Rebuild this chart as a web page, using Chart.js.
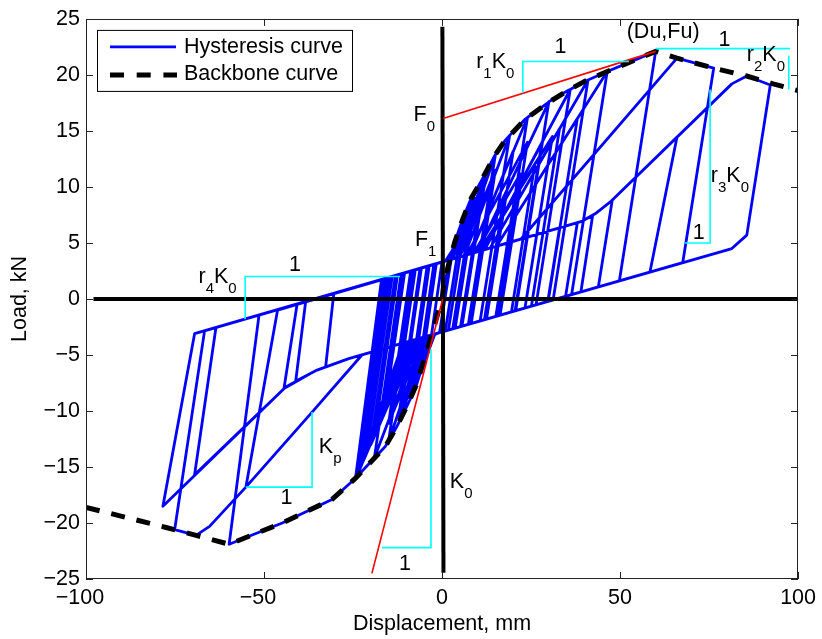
<!DOCTYPE html>
<html>
<head>
<meta charset="utf-8">
<script src="https://cdn.jsdelivr.net/npm/chart.js@4.4.1/dist/chart.umd.min.js"></script>
<style>
  html, body { margin: 0; padding: 0; background: #fff; }
</style>
</head>
<body>
<canvas id="loadChart" width="822" height="639"></canvas>
<script>
// all pairs are [displacement mm, load kN]

const xTickValues = [-100, -50, 0, 50, 100];
const yTickValues = [-25, -20, -15, -10, -5, 0, 5, 10, 15, 20, 25];

const backboneCurve = [
  [-100, -18.6], [-77.5, -20.4], [-69.1, -21.1], [-59.8, -21.9], [-55.1, -21.3],
  [-44.9, -20.0], [-30.9, -17.9], [-24.3, -16.0], [-16.0, -13.2], [-12.7, -11.4],
  [-9.9, -9.6], [-7.1, -7.6], [-3.9, -4.3], [0, 0], [0.4, 1.0], [1.7, 2.9],
  [3.6, 5.1], [5.9, 7.2], [8.2, 9.0], [10.6, 10.3], [14.8, 12.8], [17.6, 14.1],
  [23.2, 16.0], [29.7, 17.5], [35.3, 18.6], [39.9, 19.4], [46.4, 20.3],
  [53.9, 21.3], [60, 22.1], [66, 21.5], [76.3, 20.6], [85.6, 19.9], [93, 19.2],
  [100, 18.6]
];

// small cycles around the origin, each followed by a shorter repeat
const earlyCycles = [
  [0, 0], [1.7, 2.9], [3, 4.4], [-0.7, -3.0], [-3, -3.3], [0, 3.3],
  [1, 3.4], [3, 4.4], [3.6, 5.1], [6, 7.3], [0.9, -2.86], [-1, -3.03], [-3, -3.3], [-3.9, -4.3], [-6, -6.5], [-1.6, 3.15],
  [2, 3.48], [6, 7.3], [8.2, 9.0], [9, 9.4], [3.0, -2.67], [-2, -3.12], [-6, -6.5], [-7.1, -7.6], [-9, -9.0], [-3.6, 2.97],
  [2, 3.48], [7, 7.7], [1.8, -2.78], [-2, -3.12], [-7, -7.3], [-2.3, 3.09],
  [3, 3.58], [9, 9.4], [10.6, 10.3], [12, 11.1], [5.2, -2.46], [-3, -3.21], [-9, -9.0], [-9.9, -9.6], [-12, -10.95], [-5.8, 2.77],
  [3, 3.58], [9.5, 9.0], [3.7, -2.6], [-3, -3.21], [-9.5, -8.8], [-4.2, 2.91],
  [4, 3.67], [12, 11.1], [14.8, 12.8], [15, 12.9], [7.4, -2.26], [-4, -3.31], [-12, -10.95], [-12.7, -11.4], [-15, -12.7], [-8.1, 2.56],
  [4, 3.67], [12, 10.4], [5.6, -2.43], [-4, -3.31], [-12, -10.1], [-6.2, 2.73],
  [5, 3.76], [15, 12.9], [17.6, 14.1], [19, 14.6], [10.7, -1.96], [-5, -3.4], [-15, -12.7], [-16, -13.2], [-19, -14.2], [-11.5, 2.24],
  [5, 3.76], [15, 11.5], [8.2, -2.19], [-5, -3.4], [-15, -11.1], [-8.8, 2.49]
];

// medium cycles with their repeats
const midCycles = [
  [6.3, 3.88], [19, 14.6], [23.2, 16.0], [24, 16.2], [15.1, -1.56], [-6.3, -3.52], [-19, -14.2], [-24, -15.9], [-15.9, 1.83],
  [8, 4.04], [20, 13.2], [12.5, -1.8], [-7, -3.58], [-20, -13.0], [-13.1, 2.09],
  [8, 4.04], [24, 16.2], [29.7, 17.5], [30, 17.6], [20.7, -1.05], [-7.5, -3.63], [-22, -14.4], [-14.6, 1.96],
  [10, 4.22], [30, 17.6], [35.3, 18.6], [36, 18.7], [26.4, -0.53], [-8, -3.67], [-24, -15.9], [-24.3, -16.0], [-16.2, 1.81],
  [12, 4.41], [28, 13.9], [20.5, -1.07], [-8.5, -3.72], [-17, -10.3], [-11.3, 2.26],
  [12, 4.41], [36, 18.7], [39.9, 19.4], [41, 19.55], [31.2, -0.09], [-9, -3.76], [-21, -13.4], [-14.0, 2.01],
  [13.5, 4.54], [33, 15.2], [25.1, -0.65], [-9.5, -3.81], [-23, -14.9], [-15.4, 1.88],
  [13.5, 4.54], [41, 19.55], [46.4, 20.3], [36.4, 0.39], [-10, -3.85], [-18.5, -11.1], [-12.5, 2.15],
  [15.3, 4.71], [38, 16.1], [29.8, -0.22], [-10.5, -3.9], [-24.3, -16.0], [-17, 1.73],
  [9, 4.13], [22, 11.15], [15.7, -1.51], [-6, -3.49], [-14, -9.0], [-8.8, 2.49],
  [11, 4.31], [26, 11.9], [19.5, -1.16], [-7, -3.58], [-12, -7.2], [-7.5, 2.6],
  [9.5, 4.18], [17, 8.3], [11.9, -1.85], [-5.5, -3.44], [-10, -6.45], [-5.8, 2.76],
  [7, 3.95], [24, 14.0], [16.3, -1.45], [-9, -3.76], [-19.5, -12.2], [-13.0, 2.1],
  [10.5, 4.27], [31, 14.5], [23.3, -0.81], [-8, -3.67], [-16, -9.7], [-10.5, 2.33]
];

// the three largest cycles
const largeCycles = [
  [15.3, 4.71], [46.4, 20.3], [53.9, 21.3], [60, 22.1], [49.8, 1.61], [-11, -3.95], [-24.3, -16.0],
  [-30.9, -17.9], [-44.9, -20.0], [-55.1, -21.3], [-59.8, -21.9], [-51.4, -1.44],
  [22.2, 5.35], [66, 21.5], [76.3, 20.6], [67.6, 3.24], [-22.5, -5.0], [-36.5, -10.1], [-55.1, -16.8],
  [-65.3, -20.3], [-69.1, -21.1], [-75.1, -20.6], [-66.7, -2.85],
  [39, 6.9], [43, 7.6], [47.4, 8.7], [81.4, 19.2], [85.6, 19.9], [92.2, 19.1], [85.6, 5.7], [81.4, 4.5],
  [-26.2, -5.33], [-35.5, -6.4], [-43.9, -7.85], [-78.4, -18.5], [-69.5, -3.1]
];

// shorter cycles after the largest ones
const trailingCycles = [
  [39, 6.9], [43, 7.6], [47.4, 8.7], [66, 14.45], [58.4, 2.4], [-26.2, -5.33], [-35.5, -6.4], [-43.9, -7.85], [-69.5, -15.7], [-63.5, -2.55],
  [39, 6.9], [43, 7.6], [47.8, 8.8], [43.9, 1.07], [-22.5, -5.0], [-36.5, -10.1], [-55.1, -16.8], [-46.2, -1.0],
  [39, 6.9], [42.3, 7.45], [39, 0.62], [-26.2, -5.33], [-35.5, -6.4], [-44.4, -8.0], [-40.7, -0.45],
  [38, 6.8], [34.7, 0.23], [-26.2, -5.33], [-35.5, -6.4], [-41.1, -7.35], [-38.3, -0.23],
  [33, 6.34], [29.7, -0.23], [-26.2, -5.33], [-32.7, -6.08], [-30.4, 0.5], [0, 3.3]
];

const hysteresisPath = [...earlyCycles, ...midCycles, ...largeCycles, ...trailingCycles];

// zero axes drawn inside the plot
const zeroLoadLine = [[-97.9, 0], [100, 0]];
const zeroDispLine = [[0.4, -24.45], [0.1, 24.3]];

// stiffness lines
const k0Line = [[-19.7, -24.5], [0.2, 0]];
const r1k0Line = [[0.3, 16.1], [60, 22.1]];

// slope triangles
const slopeMarks = [
  [[52.5, 21.2], [22.7, 21.2], [22.7, 18.4]],
  [[60, 22.35], [97.7, 22.35]],
  [[97.4, 21.7], [97.4, 18.7]],
  [[68.2, 5.0], [75.3, 5.0], [75.3, 18.7]],
  [[-11.8, 2.0], [-55.3, 2.0], [-55.3, -1.8]],
  [[-55.1, -16.8], [-36.5, -16.8], [-36.5, -10.1]],
  [[-16.9, -22.2], [-3.1, -22.2], [-3.1, -4.5]]
];

// annotation text; odd entries are subscripts
const notes = [
  { parts: ['(Du,Fu)'], x: 62.1, y: 23.3, align: 'center' },
  { parts: ['1'], x: 33.3, y: 21.97, align: 'center' },
  { parts: ['r', '1', 'K', '0'], x: 9.6, y: 20.6 },
  { parts: ['1'], x: 79.3, y: 22.55, align: 'center' },
  { parts: ['r', '2', 'K', '0'], x: 85.6, y: 21.2 },
  { parts: ['F', '0'], x: -8.0, y: 15.9 },
  { parts: ['F', '1'], x: -7.6, y: 4.7 },
  { parts: ['r', '3', 'K', '0'], x: 75.5, y: 10.45 },
  { parts: ['1'], x: 72.1, y: 5.36, align: 'center' },
  { parts: ['r', '4', 'K', '0'], x: -68.4, y: 1.42 },
  { parts: ['1'], x: -41.3, y: 2.48, align: 'center' },
  { parts: ['K', 'p'], x: -34.6, y: -13.77 },
  { parts: ['1'], x: -43.7, y: -18.33, align: 'center' },
  { parts: ['K', '0'], x: 2.2, y: -16.87 },
  { parts: ['1'], x: -10.4, y: -24.24, align: 'center' }
];

const FONT = '"Liberation Sans", Arial, Helvetica, sans-serif';
const FONT_SIZE = 21.5;
const SUB_SIZE = 15;

const toXY = pts => pts.map(([x, y]) => ({ x, y }));
const minus = v => (v < 0 ? '\u2212' + Math.abs(v) : String(v));

function lineSet(label, pts, color, width, order, extra) {
  return Object.assign({
    label,
    data: toXY(pts),
    showLine: true,
    borderColor: color,
    backgroundColor: color,
    borderWidth: width,
    pointRadius: 0,
    pointHoverRadius: 0,
    borderJoinStyle: 'round',
    clip: 0,
    order
  }, extra || {});
}

function drawParts(ctx, parts, px, py, align) {
  const widths = parts.map((t, i) => {
    ctx.font = `${i % 2 ? SUB_SIZE : FONT_SIZE}px ${FONT}`;
    return ctx.measureText(t).width;
  });
  let x = align === 'center' ? px - widths.reduce((a, b) => a + b, 0) / 2 : px;
  ctx.textAlign = 'left';
  ctx.textBaseline = 'alphabetic';
  parts.forEach((t, i) => {
    const sub = i % 2 === 1;
    ctx.font = `${sub ? SUB_SIZE : FONT_SIZE}px ${FONT}`;
    ctx.fillText(t, x, sub ? py + 10 : py);
    x += widths[i];
  });
}

// box, inward ticks, annotations and legend
const axesDecor = {
  id: 'axesDecor',
  afterDatasetsDraw(chart) {
    const { ctx, chartArea: a, scales: { x, y } } = chart;
    ctx.save();

    ctx.strokeStyle = '#222';
    ctx.lineWidth = 1;
    ctx.beginPath();
    xTickValues.forEach(v => {
      const px = Math.round(x.getPixelForValue(v)) + 0.5;
      ctx.moveTo(px, a.bottom); ctx.lineTo(px, a.bottom - 7);
      ctx.moveTo(px, a.top); ctx.lineTo(px, a.top + 7);
    });
    yTickValues.forEach(v => {
      const py = Math.round(y.getPixelForValue(v)) + 0.5;
      ctx.moveTo(a.left, py); ctx.lineTo(a.left + 7, py);
      ctx.moveTo(a.right, py); ctx.lineTo(a.right - 7, py);
    });
    ctx.stroke();
    ctx.strokeRect(Math.round(a.left) + 0.5, Math.round(a.top) + 0.5,
      Math.round(a.right - a.left) - 1, Math.round(a.bottom - a.top) - 1);

    ctx.fillStyle = '#000';
    notes.forEach(n => {
      drawParts(ctx, n.parts, x.getPixelForValue(n.x), y.getPixelForValue(n.y), n.align);
    });

    // legend
    const lx = a.left + 11, ly = a.top + 11, lw = 255, lh = 61;
    ctx.fillStyle = '#fff';
    ctx.fillRect(lx, ly, lw, lh);
    ctx.strokeStyle = '#000';
    ctx.strokeRect(lx + 0.5, ly + 0.5, lw, lh);

    ctx.strokeStyle = '#0000ff';
    ctx.lineWidth = 2.8;
    ctx.beginPath();
    ctx.moveTo(lx + 13, ly + 17); ctx.lineTo(lx + 79, ly + 17);
    ctx.stroke();

    ctx.strokeStyle = '#000';
    ctx.lineWidth = 5;
    ctx.setLineDash([14, 12.7]);
    ctx.beginPath();
    ctx.moveTo(lx + 13, ly + 45); ctx.lineTo(lx + 80, ly + 45);
    ctx.stroke();
    ctx.setLineDash([]);

    ctx.fillStyle = '#000';
    ctx.font = `${FONT_SIZE}px ${FONT}`;
    ctx.textAlign = 'left';
    ctx.textBaseline = 'middle';
    ctx.fillText('Hysteresis curve', lx + 87, ly + 17);
    ctx.fillText('Backbone curve', lx + 87, ly + 44.5);

    ctx.restore();
  }
};

Chart.defaults.font.family = FONT;
Chart.defaults.font.size = FONT_SIZE;
Chart.defaults.color = '#000';

const datasets = [
  lineSet('Hysteresis curve', hysteresisPath, '#0000ff', 2.8, 6),
  lineSet('Backbone curve', backboneCurve, '#000', 5, 5, { borderDash: [14, 12], borderJoinStyle: 'miter' }),
  lineSet('zero load', zeroLoadLine, '#000', 4, 4),
  lineSet('zero displacement', zeroDispLine, '#000', 4, 4),
  lineSet('K0', k0Line, '#ff0000', 1.6, 3),
  lineSet('r1K0', r1k0Line, '#ff0000', 1.6, 3),
  ...slopeMarks.map((pts, i) => lineSet('slope ' + i, pts, '#00ffff', 1.6, 2, { borderJoinStyle: 'miter' }))
];

new Chart(document.getElementById('loadChart'), {
  type: 'scatter',
  data: { datasets },
  options: {
    responsive: false,
    animation: false,
    events: [],
    layout: { padding: { left: 0, right: 20, top: 15, bottom: 0 } },
    plugins: {
      legend: { display: false },
      tooltip: { enabled: false }
    },
    elements: { line: { tension: 0 } },
    scales: {
      x: {
        type: 'linear',
        min: -100,
        max: 100,
        grid: { display: false, drawTicks: false },
        border: { display: false },
        afterBuildTicks: s => { s.ticks = xTickValues.map(v => ({ value: v })); },
        afterFit: s => { s.height = 60; },
        ticks: {
          padding: 6,
          maxRotation: 0,
          autoSkip: false,
          // keep the digits centred on the tick, minus sign hanging left
          callback: v => (v < 0 ? minus(v) + '\u2007' : minus(v))
        },
        title: { display: true, text: 'Displacement, mm', padding: { top: 0, bottom: 1.6 } }
      },
      y: {
        type: 'linear',
        min: -25,
        max: 25,
        grid: { display: false, drawTicks: false },
        border: { display: false },
        afterBuildTicks: s => { s.ticks = yTickValues.map(v => ({ value: v })); },
        afterFit: s => { s.width = 86; },
        ticks: { padding: 6, autoSkip: false, callback: v => minus(v) },
        title: { display: true, text: 'Load, kN', padding: { top: 7, bottom: 0 } }
      }
    }
  },
  plugins: [axesDecor]
});
</script>
</body>
</html>
